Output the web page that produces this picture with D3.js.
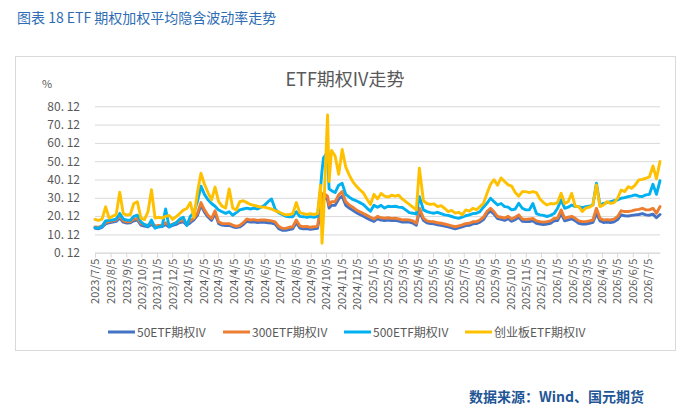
<!DOCTYPE html>
<html>
<head>
<meta charset="utf-8">
<script src="https://cdn.jsdelivr.net/npm/d3@7"></script>
<style>
  body { margin: 0; background: #fff; }
  svg { display: block; font-family: "Noto Sans CJK SC", "Noto Sans", sans-serif; }
</style>
</head>
<body>
<svg id="grafico" width="687" height="415"></svg>
<script>
// weekly readings, a few extra days around 2024/9/24 - 10/8
const fechas = [
  "2023-07-05","2023-07-12","2023-07-19","2023-07-26","2023-08-02","2023-08-09","2023-08-16","2023-08-23","2023-08-30",
  "2023-09-06","2023-09-13","2023-09-20","2023-09-27","2023-10-04","2023-10-11","2023-10-18","2023-10-25","2023-11-01",
  "2023-11-08","2023-11-15","2023-11-22","2023-11-29","2023-12-06","2023-12-13","2023-12-20","2023-12-27",
  "2024-01-03","2024-01-10","2024-01-17","2024-01-24","2024-01-31","2024-02-07","2024-02-14","2024-02-21","2024-02-28",
  "2024-03-06","2024-03-13","2024-03-20","2024-03-27","2024-04-03","2024-04-10","2024-04-17","2024-04-24","2024-05-01",
  "2024-05-08","2024-05-15","2024-05-22","2024-05-29","2024-06-05","2024-06-12","2024-06-19","2024-06-26","2024-07-03",
  "2024-07-10","2024-07-17","2024-07-24","2024-07-31","2024-08-07","2024-08-14","2024-08-21","2024-08-28","2024-09-04",
  "2024-09-11","2024-09-18",
  "2024-09-24","2024-09-27","2024-09-30","2024-10-08","2024-10-11","2024-10-16","2024-10-23","2024-10-30","2024-11-06",
  "2024-11-13","2024-11-20","2024-11-27","2024-12-04","2024-12-11","2024-12-18","2024-12-25",
  "2025-01-01","2025-01-08","2025-01-15","2025-01-22","2025-01-29",
  "2025-02-05","2025-02-12","2025-02-19","2025-02-26","2025-03-05","2025-03-12","2025-03-19","2025-03-26","2025-04-02",
  "2025-04-08","2025-04-16","2025-04-23","2025-04-30","2025-05-07","2025-05-14","2025-05-21","2025-05-28","2025-06-04",
  "2025-06-11","2025-06-18","2025-06-25","2025-07-02","2025-07-09","2025-07-16","2025-07-23","2025-07-30","2025-08-06",
  "2025-08-13","2025-08-20","2025-08-27","2025-09-03","2025-09-10","2025-09-17","2025-09-24","2025-10-01","2025-10-08",
  "2025-10-15","2025-10-22","2025-10-29","2025-11-05","2025-11-12",
  "2025-11-19","2025-11-26","2025-12-03","2025-12-10","2025-12-17","2025-12-24","2025-12-31",
  "2026-01-07","2026-01-14","2026-01-21","2026-01-28","2026-02-04","2026-02-11","2026-02-18","2026-02-25","2026-03-04",
  "2026-03-11","2026-03-18","2026-03-25","2026-04-01","2026-04-08","2026-04-15","2026-04-22","2026-04-29","2026-05-06",
  "2026-05-13","2026-05-20","2026-05-27","2026-06-03","2026-06-10","2026-06-17","2026-06-24","2026-07-01","2026-07-08",
  "2026-07-15","2026-07-22","2026-07-29"
];

const iv50 = [
  13.5,13.2,14.0,15.8,16.5,16.8,17.2,19.0,16.8,16.3,16.5,17.6,18.0,15.2,14.6,14.2,15.6,14.0,14.3,14.4,15.5,14.2,15.0,15.6,16.6,17.0,
  15.2,16.5,18.0,20.5,26.0,22.3,19.6,17.8,21.5,16.0,15.2,15.0,15.0,14.3,13.8,14.2,15.5,17.3,16.8,17.0,16.6,16.8,16.7,16.5,
  16.3,15.8,13.3,12.4,12.3,12.8,13.2,16.5,13.6,13.2,13.3,12.9,13.2,13.4,
  22.5,28.0,30.5,29.0,24.5,26.0,26.0,29.5,31.0,26.0,24.5,23.3,22.0,21.0,20.0,19.0,
  18.0,17.2,18.6,17.9,17.7,
  18.0,17.7,17.8,17.4,16.9,17.0,16.8,16.3,15.1,22.5,17.8,16.4,16.0,15.9,15.4,15.1,14.7,14.2,13.7,13.2,13.7,14.2,14.9,15.1,
  15.9,16.0,16.8,18.2,21.3,23.0,21.2,18.7,18.3,17.8,18.7,17.3,18.2,19.5,17.3,17.1,17.2,
  17.5,16.2,15.8,15.5,15.8,16.2,17.6,
  17.7,21.5,17.5,18.1,18.6,17.6,16.2,15.8,15.8,16.2,16.7,21.5,17.5,16.6,16.8,16.6,17.0,18.2,20.8,20.3,20.2,20.5,20.8,21.0,
  21.5,20.8,20.6,21.2,19.2,21.0
];

const iv300 = [
  14.2,14.0,14.8,16.5,17.2,17.5,18.0,20.0,17.5,17.0,17.2,18.5,18.8,16.0,15.5,15.0,16.5,14.8,15.0,15.2,16.5,15.0,15.8,16.5,17.5,18.0,
  16.0,17.5,19.0,21.6,27.5,23.5,20.6,18.8,23.0,17.0,16.0,16.0,16.0,15.2,14.5,15.0,16.5,18.5,18.0,18.2,17.8,18.0,18.0,17.8,
  17.5,17.0,14.5,13.5,13.4,14.0,14.3,18.0,14.8,14.3,14.5,14.0,14.3,14.5,
  24.4,30.0,32.6,31.0,26.2,28.0,28.0,31.7,33.5,28.0,26.2,25.0,23.5,22.5,21.5,20.5,
  19.5,18.5,20.0,19.2,19.0,
  19.2,18.9,19.0,18.6,18.0,18.2,18.0,17.5,16.2,24.5,19.0,17.5,17.1,17.0,16.5,16.2,15.8,15.3,14.8,14.3,14.8,15.3,16.0,16.2,
  17.0,17.1,18.0,19.5,22.6,24.4,22.5,19.9,19.5,19.0,20.0,18.5,19.5,20.8,18.5,18.3,18.5,
  18.8,17.5,17.1,16.8,17.1,17.5,18.9,
  19.0,23.5,18.9,19.5,20.0,18.9,17.5,17.1,17.1,17.5,18.0,24.4,18.9,18.0,18.2,18.0,18.5,19.9,23.0,22.6,22.6,23.0,23.5,23.8,
  24.4,23.5,23.5,24.4,21.7,25.3
];

const iv500 = [
  13.8,13.5,14.5,17.5,17.8,18.0,18.5,21.6,18.5,18.0,17.8,20.0,20.6,17.0,15.5,14.5,18.0,13.5,14.3,14.5,24.0,14.3,15.5,16.5,18.5,19.5,
  15.0,20.0,22.0,28.0,36.5,32.0,29.0,27.0,25.5,23.5,22.5,21.6,22.5,20.6,22.0,23.5,24.0,24.5,24.0,24.5,24.0,25.0,26.0,28.0,
  29.5,24.0,22.0,21.0,20.0,19.8,19.8,22.5,20.0,19.8,19.5,19.8,19.5,20.0,
  35.0,45.0,52.0,55.0,35.0,34.0,33.0,37.0,38.0,32.0,30.5,29.2,28.5,27.5,26.5,24.5,
  22.8,26.0,25.0,26.0,24.5,
  25.5,25.3,25.5,25.0,24.8,23.5,22.0,21.7,21.2,30.8,23.5,22.6,22.0,21.7,22.2,21.5,20.8,20.5,19.9,19.3,18.9,19.5,20.3,20.8,
  21.5,21.7,22.6,25.0,27.1,29.9,28.0,26.2,27.0,25.3,25.0,23.5,24.0,27.1,24.4,23.5,23.5,
  27.0,21.5,20.8,20.5,19.9,20.5,21.5,
  24.4,29.0,24.4,25.0,26.2,25.3,25.3,24.8,25.3,25.5,26.2,38.1,26.0,27.1,27.5,28.0,28.5,29.0,29.9,30.2,30.8,31.2,31.7,31.0,
  30.8,31.7,32.0,37.5,32.0,39.5
];

const ivCyb = [
  18.3,17.8,18.5,25.2,19.0,20.0,21.0,33.2,21.5,20.7,21.0,27.0,28.0,19.0,18.2,22.5,34.5,19.0,19.5,19.0,20.0,20.5,18.3,19.8,21.5,23.4,
  24.3,27.5,19.5,33.0,43.5,37.5,33.0,29.0,36.0,28.0,25.5,24.5,35.0,24.5,23.5,28.0,28.5,27.5,26.5,26.0,25.5,25.0,25.0,24.5,
  24.0,23.0,22.5,21.5,20.8,21.0,21.5,27.5,22.0,21.5,21.0,21.5,21.0,21.5,
  37.0,5.3,20.0,75.4,39.0,56.0,53.0,43.0,56.5,47.0,42.5,39.0,36.5,34.5,32.8,29.5,
  26.5,32.0,29.5,32.5,31.0,
  30.5,31.5,31.0,31.5,29.5,28.0,26.5,25.0,23.5,46.3,28.5,27.0,26.5,26.8,25.3,25.8,24.4,22.6,23.2,21.7,22.2,20.8,23.5,22.8,
  24.4,23.6,25.3,27.0,32.5,37.5,40.0,37.0,41.0,39.0,37.2,36.5,33.0,31.0,33.5,33.5,33.0,
  33.5,33.0,29.5,27.5,26.2,27.0,26.8,
  27.5,32.6,27.0,28.0,32.6,25.5,25.3,22.6,24.5,25.0,26.2,37.2,25.3,26.2,28.0,27.1,27.5,29.9,34.4,33.5,36.2,35.3,37.2,39.9,
  40.2,40.8,41.5,47.5,40.5,50.0
];

const nombres = ["50ETF期权IV", "300ETF期权IV", "500ETF期权IV", "创业板ETF期权IV"];
const colores = ["#4472c4", "#ed7d31", "#00b0f0", "#ffc000"];
const yTicks = [0.12, 10.12, 20.12, 30.12, 40.12, 50.12, 60.12, 70.12, 80.12];

const series = [iv50, iv300, iv500, ivCyb];

// dimensions
const plotLeft = 95;
const plotRight = 660;
const plotTop = 106.3;
const plotBottom = 252.7;
const textColor = "#595959";
const gridColor = "#d9d9d9";

const parse = d3.utcParse("%Y-%m-%d");
const dias = fechas.map(parse);

const xScale = d3.scaleUtc()
  .domain([parse("2023-07-05"), dias[dias.length - 1]])
  .range([plotLeft, plotRight]);

const yScale = d3.scaleLinear()
  .domain([yTicks[0], yTicks[yTicks.length - 1]])
  .range([plotBottom, plotTop]);

// tick on the 5th of every month
const xTicks = d3.utcMonth.range(parse("2023-07-01"), parse("2026-08-01"))
  .map(d => d3.utcDay.offset(d, 4));

const svg = d3.select("#grafico");

// top caption
svg.append("text")
  .attr("x", 17).attr("y", 23)
  .attr("font-size", 14)
  .attr("fill", "#2e6db4")
  .text("图表 18 ETF 期权加权平均隐含波动率走势");

// chart frame
svg.append("rect")
  .attr("x", 15.5).attr("y", 56.5)
  .attr("width", 660).attr("height", 294)
  .attr("fill", "#fff")
  .attr("stroke", gridColor);

svg.append("text")
  .attr("x", 345).attr("y", 86)
  .attr("text-anchor", "middle")
  .attr("font-size", 18)
  .attr("fill", textColor)
  .text("ETF期权IV走势");

svg.append("text")
  .attr("x", 42).attr("y", 88)
  .attr("font-size", 11)
  .attr("fill", textColor)
  .text("%");

// y grid + labels
const yAxis = d3.axisLeft(yScale)
  .tickValues(yTicks)
  .tickSize(-(plotRight - plotLeft))
  .tickFormat(d => d.toFixed(2).replace(".", ". "));

const gy = svg.append("g")
  .attr("transform", `translate(${plotLeft},0)`)
  .call(yAxis);
gy.select(".domain").remove();
gy.selectAll(".tick line").attr("stroke", gridColor).attr("stroke-width", 1);
gy.selectAll(".tick text")
  .attr("x", -15)
  .attr("fill", textColor)
  .attr("font-size", 12)
  .attr("font-family", "\"Noto Sans CJK SC\", sans-serif");

// x axis
const xAxis = d3.axisBottom(xScale)
  .tickValues(xTicks)
  .tickSize(5)
  .tickSizeOuter(0)
  .tickFormat(d3.utcFormat("%Y/%-m/%-d"));

const gx = svg.append("g")
  .attr("transform", `translate(0,${plotBottom})`)
  .call(xAxis);
gx.select(".domain").attr("stroke", gridColor);
gx.selectAll(".tick line").attr("stroke", gridColor);
gx.selectAll(".tick text")
  .attr("transform", "rotate(-90)")
  .attr("text-anchor", "end")
  .attr("x", -6)
  .attr("y", 0)
  .attr("dy", "0.35em")
  .attr("fill", textColor)
  .attr("font-size", 11)
  .attr("font-family", "\"Noto Sans CJK SC\", sans-serif");

// lines
const linea = d3.line()
  .x((d, i) => xScale(dias[i]))
  .y(d => yScale(d));

svg.append("g")
  .selectAll("path")
  .data(series)
  .join("path")
  .attr("d", d => linea(d))
  .attr("fill", "none")
  .attr("stroke", (d, i) => colores[i])
  .attr("stroke-width", 2.9)
  .attr("stroke-linejoin", "round")
  .attr("stroke-linecap", "round");

// legend
const legendX = [108, 223, 344, 465];
const leg = svg.append("g")
  .selectAll("g")
  .data(nombres)
  .join("g")
  .attr("transform", (d, i) => `translate(${legendX[i]},332)`);

leg.append("line")
  .attr("x1", 0).attr("x2", 27)
  .attr("stroke", (d, i) => colores[i])
  .attr("stroke-width", 3);

leg.append("text")
  .attr("x", 29).attr("y", 4.5)
  .attr("font-size", 12)
  .attr("fill", textColor)
  .text(d => d);

// source
svg.append("text")
  .attr("x", 644).attr("y", 402)
  .attr("text-anchor", "end")
  .attr("font-size", 14)
  .attr("font-weight", "bold")
  .attr("fill", "#1f5696")
  .text("数据来源：Wind、国元期货");
</script>
</body>
</html>
